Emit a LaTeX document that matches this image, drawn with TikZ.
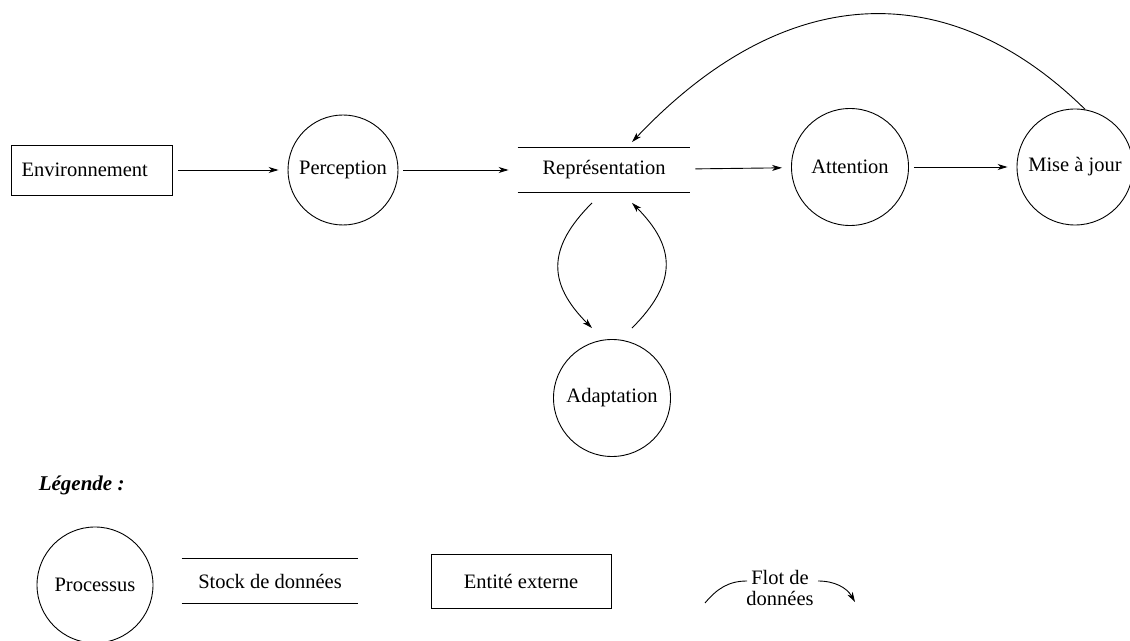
\documentclass[tikz,border=0pt]{standalone}
\usepackage{fontspec}
\setmainfont{Liberation Serif}
\usepackage{tikz}
\usetikzlibrary{positioning,arrows.meta}

\begin{document}
\begin{tikzpicture}[x=1pt,y=1pt,
		font=\fontsize{20.5}{21}\selectfont,
		line width=0.9pt,
		proc/.style={circle, draw, inner sep=0pt, minimum size=117pt},
		store/.style={inner sep=0pt, minimum width=172pt, minimum height=45pt},
		entity/.style={draw, inner sep=0pt, minimum width=161pt, minimum height=50pt},
		flot/.style={-{Stealth[length=10pt,width=6pt,inset=3pt]}, shorten <=5pt, shorten >=9pt}]
			\useasboundingbox (0,0) rectangle (1130,640);
			\node[entity, align=left, text width=141pt, inner xsep=10pt] (Env) at (92,470) {Environnement};
			\node[proc, minimum size=110pt] (Perc) at (343,470) {Perception};
			\node[store] (Rep) at (604,470) {Représentation};
			\node[proc] (Att) at (850,473) {Attention};
			\node[proc, minimum size=116pt] (Maj) at (1075,473) {Mise à jour};
			\node[proc] (Adap) at (612,242) {Adaptation};
			\draw[flot] (Env) -- (Perc);
			\draw[flot] (Perc) -- (Rep);
			\draw[flot] (Rep) -- (Att);
			\draw[flot] (Att) -- (Maj);
			\draw[flot, shorten <=0pt, shorten >=0pt] (Maj.80) .. controls +(-132,130) and +(158,167) .. ([xshift=28pt,yshift=5pt]Rep.north);
			\draw[flot, shorten <=0pt, shorten >=0pt] ([xshift=-12pt,yshift=-10pt]Rep.south) to[out=225, in=135, looseness=1.3] ([xshift=-20pt,yshift=11pt]Adap.north);
			\draw[flot, shorten <=0pt, shorten >=0pt] ([xshift=20pt,yshift=11pt]Adap.north) to[out=45, in=315, looseness=1.3] ([xshift=28pt,yshift=-10pt]Rep.south);
			\node[proc, minimum size=116pt] (Proc) at (95,55) {Processus};
			\node[store, minimum width=176pt, minimum height=44pt] (Stock) at (270,59) {Stock de données};
			\node[entity, minimum width=180pt, minimum height=54pt] (Ext) at (521,59) {Entité externe};
			\node[align=center, inner sep=0pt] (Flot) at (780,52) {Flot de\\données};
			\node[anchor=west, font=\fontsize{21}{22}\selectfont\bfseries\itshape] (Leg) at (35,155) {Légende :};
			\foreach \s in {Rep,Stock}
				\draw (\s.north west) -- (\s.north east) (\s.south west) -- (\s.south east);
			\coordinate (f1) at (705,37);
			\coordinate (f2) at (747,59);
			\coordinate (f3) at (818,59);
			\coordinate (f4) at (855,38);
			\draw (f1) to[out=50, in=180] (f2);
			\draw[flot, shorten <=0pt, shorten >=0pt] (f3) to[out=0, in=120] (f4);
		\end{tikzpicture}
\end{document}
